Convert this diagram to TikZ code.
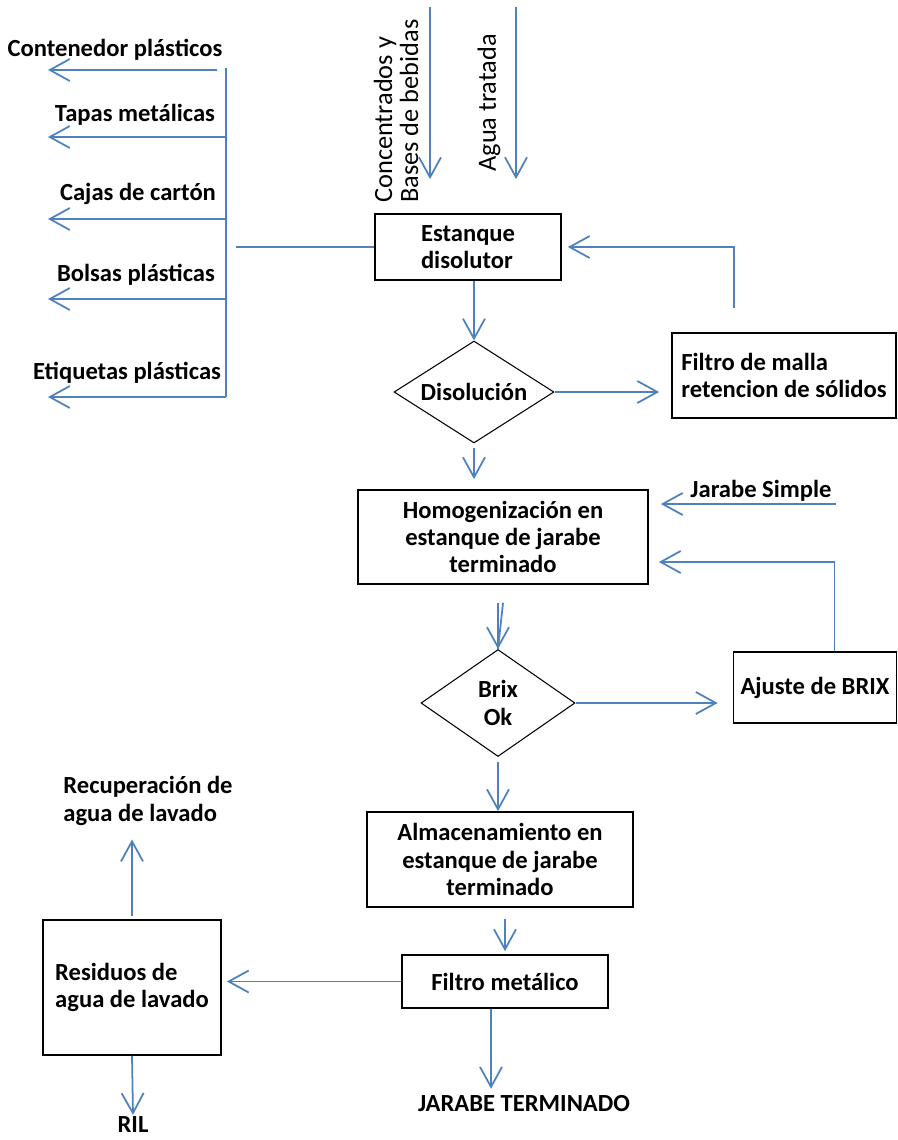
\documentclass[tikz,border=0pt]{standalone}
\usepackage{fontspec}
\setmainfont{Carlito}
\usepackage{xcolor}
\usetikzlibrary{arrows.meta,shapes.geometric}
\definecolor{azul}{HTML}{4F81BD}

\begin{document}
\begin{tikzpicture}[x=0.02cm, y=-0.02cm,
      caja/.style={rectangle, draw=black, line width=1pt, align=center, inner sep=2pt,
                   font=\fontsize{14}{15.6}\selectfont\bfseries},
      rombo/.style={diamond, draw=black, line width=0.6pt, aspect=1.5, inner sep=0pt,
                    align=center, font=\fontsize{14}{15.6}\selectfont\bfseries},
      etiqueta/.style={align=left, inner sep=1pt, font=\fontsize{14}{15.6}\selectfont\bfseries},
      vertical/.style={rotate=90, anchor=west, align=left, inner sep=0pt,
                       font=\fontsize{15}{14.8}\selectfont},
      linea/.style={draw=azul, line width=1pt},
      flecha/.style={linea, -{Straight Barb[length=4mm,width=4.4mm]}}]

    \useasboundingbox (0,0) rectangle (898,1140);

    % entradas
    \coordinate (conc) at (430,7);
    \coordinate (agua) at (516,7);
    \node[vertical] (tconc) at (396,203) {Concentrados y\\Bases de bebidas};
    \node[vertical] (tagua) at (489,172) {Agua tratada};

    % proceso
    \node[caja, align=left, minimum width=3.72cm, minimum height=1.32cm] (tanque) at (468,247) {Estanque\\disolutor};
    \node[rombo, minimum width=3.2cm, minimum height=2.04cm] (disol) at (474,392) {Disolución};
    \node[caja, align=left, minimum width=4.48cm, minimum height=1.7cm] (malla) at (784,375.5) {Filtro de malla\\retencion de sólidos};
    \node[caja, minimum width=5.8cm, minimum height=1.88cm] (homog) at (503,537) {Homogenización en\\estanque de jarabe\\terminado};
    \node[caja, minimum width=3.26cm, minimum height=1.42cm] (ajuste) at (815,687.5) {Ajuste de BRIX};
    \node[rombo, minimum width=3.08cm, minimum height=2.14cm] (brix) at (498,703) {Brix\\Ok};
    \node[caja, minimum width=5.32cm, minimum height=1.9cm] (almacen) at (500,859.5) {Almacenamiento en\\estanque de jarabe\\terminado};
    \node[caja, minimum width=4.12cm, minimum height=1.06cm] (filtrom) at (505,981.5) {Filtro metálico};
    \node[caja, align=left, minimum width=3.56cm, minimum height=2.7cm] (residuos) at (132,987.5) {Residuos de\\agua de lavado};

    % salidas
    \node[etiqueta] (contenedor) at (115,50) {Contenedor plásticos};
    \node[etiqueta] (tapas) at (135,115) {Tapas metálicas};
    \node[etiqueta] (cajas) at (138,194) {Cajas de cartón};
    \node[etiqueta] (bolsas) at (136,275) {Bolsas plásticas};
    \node[etiqueta] (etiquetas) at (127,373) {Etiquetas plásticas};
    \node[etiqueta] (jsimple) at (761,491) {Jarabe Simple};
    \node[etiqueta] (recup) at (148,801) {Recuperación de\\agua de lavado};
    \node[etiqueta] (ril) at (133,1125) {RIL};
    \node[etiqueta] (final) at (524,1104) {JARABE TERMINADO};

    \foreach \i/\xi/\yi in {1/217/70, 2/226/137, 3/226/219, 4/226/299, 5/226/397} {
      \coordinate (bus\i) at (\xi,\yi);
      \coordinate (sal\i) at (48,\yi);
      \draw[flecha] (bus\i) -- (sal\i);
    }
    \coordinate (busarr) at (226,68);
    \coordinate (barra) at (236,247);
    \coordinate (ret) at (734,308);
    \coordinate (js) at (836,504);

    \draw[linea] (busarr) -- (bus5);
    \draw[linea] (tanque.west) -- (barra);
    \draw[flecha, shorten >=0.68cm] (conc) -- (conc |- tanque.north);
    \draw[flecha, shorten >=0.68cm] (agua) -- (agua |- tanque.north);
    \draw[flecha] (disol.north |- tanque.south) -- (disol.north);
    \draw[flecha, shorten >=0.24cm] (disol.east) -- (disol.east -| malla.west);
    \draw[flecha, shorten >=0.12cm] (ret) |- (tanque.east);
    \draw[flecha, shorten <=0.08cm, shorten >=0.2cm] (disol.south) -- (disol.south |- homog.north);
    \draw[flecha, shorten >=0.24cm] (js) -- (js -| homog.east);
    \draw[flecha, shorten >=0.2cm] ([xshift=0.39cm]ajuste.north) |- ([yshift=-0.5cm]homog.east);
    \draw[flecha, shorten <=0.36cm] (brix.north |- homog.south) -- (brix.north);
    \draw[linea, shorten <=0.36cm] ([xshift=0.14cm]brix.north |- homog.south) -- (brix.north);
    \draw[flecha, shorten >=0.3cm] (brix.east) -- (brix.east -| ajuste.west);
    \draw[flecha, shorten <=0.1cm] (brix.south) -- (brix.south |- almacen.north);
    \draw[flecha, shorten <=0.22cm, shorten >=0.06cm] (filtrom.north |- almacen.south) -- (filtrom.north);
    \draw[flecha, shorten >=0.1cm] (filtrom.west) -- (filtrom.west -| residuos.east);
    \draw[flecha, shorten <=0.06cm, shorten >=0.24cm] (residuos.north) -- (residuos.north |- recup.south);
    \draw[flecha] (residuos.south) -- (ril.north);
    \draw[flecha, shorten >=0.1cm] ([xshift=-0.28cm]filtrom.south) -- ([xshift=-0.28cm]filtrom.south |- final.north);
  \end{tikzpicture}
\end{document}
